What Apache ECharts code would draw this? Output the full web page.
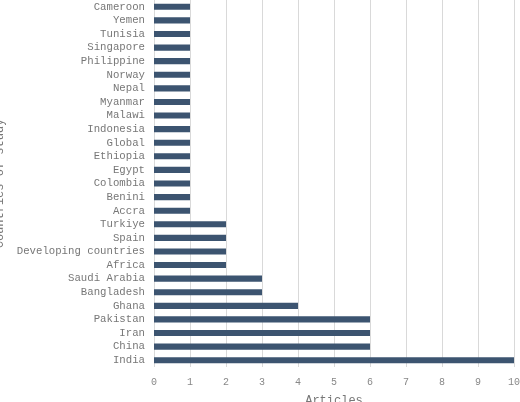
<!DOCTYPE html>
<html><head><meta charset="utf-8">
<script src="https://cdn.jsdelivr.net/npm/echarts@6/dist/echarts.min.js"></script>
<style>html,body{margin:0;padding:0;background:#fff}#c{width:520px;height:402px}</style>
</head><body><div id="c"></div>
<script>
// bottom to top
const countries = ['India','China','Iran','Pakistan','Ghana','Bangladesh','Saudi Arabia','Africa',
  'Developing countries','Spain','Turkiye','Accra','Benini','Colombia','Egypt','Ethiopia','Global',
  'Indonesia','Malawi','Myanmar','Nepal','Norway','Philippine','Singapore','Tunisia','Yemen','Cameroon'];
const articles = [10,6,6,6,4,3,3,2,2,2,2,1,1,1,1,1,1,1,1,1,1,1,1,1,1,1,1];
const xTicks = [0,1,2,3,4,5,6,7,8,9,10];

const font = '"Liberation Mono", "DejaVu Sans Mono", monospace';
const chart = echarts.init(document.getElementById('c'));
chart.setOption({
  animation: false,
  grid: { left: 154, right: 6, top: 0, bottom: 35, containLabel: false, outerBoundsMode: 'none' },
  xAxis: {
    type: 'value', min: 0, max: 10, interval: 1,
    name: 'Articles', nameLocation: 'middle', nameGap: 28,
    nameTextStyle: { fontFamily: font, fontSize: 12, color: '#777' },
    axisLine: { show: false }, axisTick: { show: false },
    axisLabel: { fontFamily: font, fontSize: 10, color: '#888', margin: 10,
      formatter: v => xTicks.includes(v) ? String(v) : '' },
    splitLine: { lineStyle: { color: '#d9d9d9', width: 1 } }
  },
  yAxis: {
    type: 'category', data: countries,
    name: 'Countries of study', nameLocation: 'middle', nameGap: 146, nameRotate: 90,
    nameTextStyle: { fontFamily: font, fontSize: 12, color: '#777' },
    axisLine: { show: false }, axisTick: { show: false },
    axisLabel: { fontFamily: font, fontSize: 10.7, color: '#777', margin: 9, interval: 0 }
  },
  series: [{
    type: 'bar', data: articles, barWidth: '45%',
    itemStyle: { color: '#3c5470' }
  }]
});
</script></body></html>
